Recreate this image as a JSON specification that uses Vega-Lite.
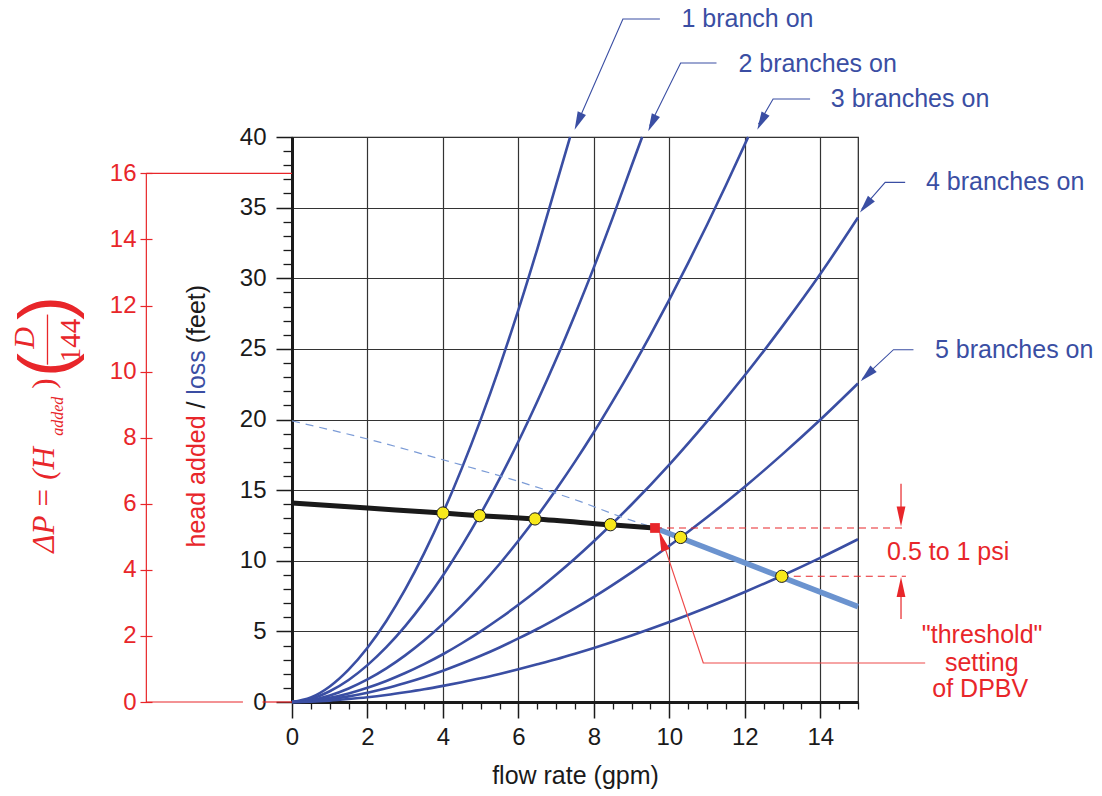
{
  "$schema": "https://vega.github.io/schema/vega-lite/v6.json",
  "width": 566,
  "height": 565,
  "autosize": {"type": "none"},
  "padding": {"left": 292, "top": 137, "right": 244, "bottom": 94},
  "background": "white",
  "config": {"font": "Liberation Sans", "view": {"stroke": "#222222", "strokeWidth": 1.2}},
  "datasets": {
    "curves": [
      {"curve":"c1","q":0,"h":0},{"curve":"c1","q":0.5,"h":0.32},{"curve":"c1","q":1,"h":1.1},{"curve":"c1","q":1.5,"h":2.29},{"curve":"c1","q":2,"h":3.84},{"curve":"c1","q":2.5,"h":5.74},{"curve":"c1","q":3,"h":7.97},{"curve":"c1","q":3.5,"h":10.52},{"curve":"c1","q":4,"h":13.38},{"curve":"c1","q":4.5,"h":16.54},{"curve":"c1","q":5,"h":19.99},{"curve":"c1","q":5.5,"h":23.73},{"curve":"c1","q":6,"h":27.76},{"curve":"c1","q":6.5,"h":32.07},{"curve":"c1","q":7,"h":36.63},{"curve":"c1","q":7.37,"h":40},
      {"curve":"c2","q":0,"h":0},{"curve":"c2","q":0.5,"h":0.22},{"curve":"c2","q":1,"h":0.76},{"curve":"c2","q":1.5,"h":1.56},{"curve":"c2","q":2,"h":2.61},{"curve":"c2","q":2.5,"h":3.88},{"curve":"c2","q":3,"h":5.37},{"curve":"c2","q":3.5,"h":7.07},{"curve":"c2","q":4,"h":8.96},{"curve":"c2","q":4.5,"h":11.05},{"curve":"c2","q":5,"h":13.33},{"curve":"c2","q":5.5,"h":15.8},{"curve":"c2","q":6,"h":18.44},{"curve":"c2","q":6.5,"h":21.27},{"curve":"c2","q":7,"h":24.26},{"curve":"c2","q":7.5,"h":27.44},{"curve":"c2","q":8,"h":30.77},{"curve":"c2","q":8.5,"h":34.29},{"curve":"c2","q":9,"h":37.96},{"curve":"c2","q":9.28,"h":40},
      {"curve":"c3","q":0,"h":0},{"curve":"c3","q":0.5,"h":0.13},{"curve":"c3","q":1,"h":0.46},{"curve":"c3","q":1.5,"h":0.96},{"curve":"c3","q":2,"h":1.6},{"curve":"c3","q":2.5,"h":2.38},{"curve":"c3","q":3,"h":3.3},{"curve":"c3","q":3.5,"h":4.35},{"curve":"c3","q":4,"h":5.53},{"curve":"c3","q":4.5,"h":6.82},{"curve":"c3","q":5,"h":8.24},{"curve":"c3","q":5.5,"h":9.77},{"curve":"c3","q":6,"h":11.42},{"curve":"c3","q":6.5,"h":13.17},{"curve":"c3","q":7,"h":15.05},{"curve":"c3","q":7.5,"h":17.02},{"curve":"c3","q":8,"h":19.1},{"curve":"c3","q":8.5,"h":21.3},{"curve":"c3","q":9,"h":23.59},{"curve":"c3","q":9.5,"h":25.99},{"curve":"c3","q":10,"h":28.49},{"curve":"c3","q":10.5,"h":31.09},{"curve":"c3","q":11,"h":33.79},{"curve":"c3","q":11.5,"h":36.58},{"curve":"c3","q":12,"h":39.48},{"curve":"c3","q":12.09,"h":40},
      {"curve":"c4","q":0,"h":0},{"curve":"c4","q":0.5,"h":0.09},{"curve":"c4","q":1,"h":0.3},{"curve":"c4","q":1.5,"h":0.61},{"curve":"c4","q":2,"h":1.01},{"curve":"c4","q":2.5,"h":1.49},{"curve":"c4","q":3,"h":2.05},{"curve":"c4","q":3.5,"h":2.68},{"curve":"c4","q":4,"h":3.38},{"curve":"c4","q":4.5,"h":4.16},{"curve":"c4","q":5,"h":5.0},{"curve":"c4","q":5.5,"h":5.91},{"curve":"c4","q":6,"h":6.88},{"curve":"c4","q":6.5,"h":7.91},{"curve":"c4","q":7,"h":9.01},{"curve":"c4","q":7.5,"h":10.16},{"curve":"c4","q":8,"h":11.38},{"curve":"c4","q":9,"h":13.98},{"curve":"c4","q":10,"h":16.81},{"curve":"c4","q":11,"h":19.87},{"curve":"c4","q":12,"h":23.13},{"curve":"c4","q":13,"h":26.61},{"curve":"c4","q":14,"h":30.3},{"curve":"c4","q":15,"h":34.3},
      {"curve":"c5","q":0,"h":0},{"curve":"c5","q":0.5,"h":0.06},{"curve":"c5","q":1,"h":0.2},{"curve":"c5","q":1.5,"h":0.4},{"curve":"c5","q":2,"h":0.66},{"curve":"c5","q":2.5,"h":0.97},{"curve":"c5","q":3,"h":1.34},{"curve":"c5","q":3.5,"h":1.75},{"curve":"c5","q":4,"h":2.21},{"curve":"c5","q":4.5,"h":2.72},{"curve":"c5","q":5,"h":3.27},{"curve":"c5","q":5.5,"h":3.86},{"curve":"c5","q":6,"h":4.5},{"curve":"c5","q":6.5,"h":5.17},{"curve":"c5","q":7,"h":5.89},{"curve":"c5","q":7.5,"h":6.64},{"curve":"c5","q":8,"h":7.44},{"curve":"c5","q":9,"h":9.18},{"curve":"c5","q":10,"h":11.06},{"curve":"c5","q":11,"h":13.08},{"curve":"c5","q":12,"h":15.24},{"curve":"c5","q":13,"h":17.55},{"curve":"c5","q":14,"h":19.98},{"curve":"c5","q":15,"h":22.55},
      {"curve":"c6","q":0,"h":0},{"curve":"c6","q":0.5,"h":0.03},{"curve":"c6","q":1,"h":0.1},{"curve":"c6","q":1.5,"h":0.21},{"curve":"c6","q":2,"h":0.34},{"curve":"c6","q":2.5,"h":0.5},{"curve":"c6","q":3,"h":0.69},{"curve":"c6","q":3.5,"h":0.9},{"curve":"c6","q":4,"h":1.14},{"curve":"c6","q":4.5,"h":1.4},{"curve":"c6","q":5,"h":1.68},{"curve":"c6","q":5.5,"h":1.99},{"curve":"c6","q":6,"h":2.32},{"curve":"c6","q":6.5,"h":2.67},{"curve":"c6","q":7,"h":3.03},{"curve":"c6","q":7.5,"h":3.42},{"curve":"c6","q":8,"h":3.83},{"curve":"c6","q":9,"h":4.71},{"curve":"c6","q":10,"h":5.66},{"curve":"c6","q":11,"h":6.69},{"curve":"c6","q":12,"h":7.79},{"curve":"c6","q":13,"h":8.96},{"curve":"c6","q":14,"h":10.2},{"curve":"c6","q":15,"h":11.52}
    ],
    "pump": [{"q":0,"h":14.09},{"q":2,"h":13.73},{"q":4,"h":13.38},{"q":4.97,"h":13.19},{"q":6.44,"h":12.96},{"q":8.44,"h":12.55},{"q":9.62,"h":12.32}],
    "bypass": [{"q":9.62,"h":12.32},{"q":15,"h":6.75}],
    "unregulated": [{"q":0,"h":19.9},{"q":2,"h":18.62},{"q":4,"h":17.15},{"q":6,"h":15.62},{"q":7.63,"h":14.2},{"q":8.69,"h":13.14},{"q":9.62,"h":12.32}],
    "operating": [{"q":4,"h":13.38},{"q":4.97,"h":13.19},{"q":6.44,"h":12.96},{"q":8.44,"h":12.55},{"q":10.3,"h":11.65},{"q":12.98,"h":8.9}],
    "threshold": [{"q":9.62,"h":12.32}],
    "redDashed": [{"q":9.62,"h":12.32,"q2":16.27,"h2":12.32},{"q":12.98,"h":8.9,"q2":16.27,"h2":8.9}],
    "redShafts": [{"q":16.14,"h":15.45,"q2":16.14,"h2":12.8},{"q":16.14,"h":5.88,"q2":16.14,"h2":8.5}],
    "redLeader": [{"o":1,"q":16.78,"h":2.76},{"o":2,"q":10.9,"h":2.76},{"o":3,"q":9.76,"h":11.9}],
    "blueLeaders": [
      {"label":"1","o":1,"q":9.75,"h":48.35},{"label":"1","o":2,"q":8.77,"h":48.35},{"label":"1","o":3,"q":7.55,"h":40.9},
      {"label":"2","o":1,"q":11.25,"h":45.24},{"label":"2","o":2,"q":10.3,"h":45.24},{"label":"2","o":3,"q":9.48,"h":40.8},
      {"label":"3","o":1,"q":13.73,"h":42.69},{"label":"3","o":2,"q":12.75,"h":42.69},{"label":"3","o":3,"q":12.36,"h":40.9},
      {"label":"4","o":1,"q":16.25,"h":36.79},{"label":"4","o":2,"q":15.72,"h":36.79},{"label":"4","o":3,"q":15.1,"h":34.9},
      {"label":"5","o":1,"q":16.47,"h":24.94},{"label":"5","o":2,"q":15.94,"h":24.94},{"label":"5","o":3,"q":15.12,"h":22.9}
    ],
    "blueHeads": [{"q":7.49,"h":40.52,"angle":203.6},{"q":9.44,"h":40.4,"angle":205.3},{"q":12.33,"h":40.52,"angle":207.5},{"q":15.05,"h":34.66,"angle":219.8},{"q":15.07,"h":22.7,"angle":225.8}],
    "redHeads": [{"q":16.14,"h":12.43,"angle":180},{"q":16.14,"h":8.85,"angle":0},{"q":9.73,"h":12.08,"angle":341.5}],
    "blueLabels": [{"t":"1 branch on","q":10.32,"h":48.35},{"t":"2 branches on","q":11.83,"h":45.19},{"t":"3 branches on","q":14.28,"h":42.69},{"t":"4 branches on","q":16.8,"h":36.79},{"t":"5 branches on","q":17.04,"h":24.94}],
    "redLabels": [{"t":"0.5 to 1 psi","q":17.39,"h":10.6},{"t":"\"threshold\"","q":18.29,"h":4.77},{"t":"setting","q":18.28,"h":2.76},{"t":"of DPBV","q":18.24,"h":0.92}],
    "titleParts": [{"t":"head added","q":-2.53,"h":10.94,"c":"added"},{"t":"/","q":-2.53,"h":20.78,"c":"slash"},{"t":"loss","q":-2.53,"h":21.76,"c":"loss"},{"t":"(feet)","q":-2.53,"h":25.4,"c":"feet"}],
    "psiFrame": [{"q":-3.86,"p":0,"q2":-3.86,"p2":16},{"q":-3.86,"p":16,"q2":0,"p2":16},{"q":-3.86,"p":0,"q2":-1.3,"p2":0},{"q":-0.78,"p":0,"q2":0,"p2":0}]
  },
  "layer": [
    {
      "encoding": {
        "x": {"field": "q", "type": "quantitative", "scale": {"domain": [0, 15], "nice": false, "zero": false},
          "axis": {"orient": "bottom", "values": [0,2,4,6,8,10,12,14], "tickSize": 16, "tickWidth": 1.5, "tickColor": "#1a1a1a", "domainColor": "#1a1a1a", "domainWidth": 3, "grid": true, "gridColor": "#333333", "gridWidth": 1.2, "labelFontSize": 24, "labelColor": "#1a1a1a", "labelPadding": 7, "labelFlush": false, "labelOverlap": false, "title": "flow rate (gpm)", "titleFontSize": 25, "titleFontWeight": "normal", "titleColor": "#1a1a1a", "titlePadding": 14}},
        "y": {"field": "h", "type": "quantitative", "scale": {"domain": [0, 40], "nice": false, "zero": false},
          "axis": {"orient": "left", "values": [0,5,10,15,20,25,30,35,40], "tickSize": 16, "tickWidth": 1.5, "tickColor": "#1a1a1a", "domainColor": "#1a1a1a", "domainWidth": 3, "grid": true, "gridColor": "#333333", "gridWidth": 1.2, "labelFontSize": 24, "labelColor": "#1a1a1a", "labelPadding": 10, "labelFlush": false, "labelOverlap": false, "title": null}}
      },
      "layer": [
        {"data": {"name": "curves"}, "mark": {"type": "line", "color": "#3a4ea3", "strokeWidth": 2.6, "interpolate": "monotone"}, "encoding": {"detail": {"field": "curve"}}},
        {"data": {"name": "unregulated"}, "mark": {"type": "line", "color": "#7b9bd6", "strokeWidth": 1.2, "strokeDash": [8, 6], "interpolate": "monotone"}},
        {"data": {"name": "bypass"}, "mark": {"type": "line", "color": "#6b93cf", "strokeWidth": 5.5}},
        {"data": {"name": "pump"}, "mark": {"type": "line", "color": "#1a1a1a", "strokeWidth": 5, "interpolate": "monotone"}},
        {"data": {"name": "redDashed"}, "mark": {"type": "rule", "color": "#e8262a", "strokeWidth": 1.1, "strokeDash": [7, 5]}, "encoding": {"x2": {"field": "q2"}, "y2": {"field": "h2"}}},
        {"data": {"name": "redShafts"}, "mark": {"type": "rule", "color": "#e8262a", "strokeWidth": 1.2}, "encoding": {"x2": {"field": "q2"}, "y2": {"field": "h2"}}},
        {"data": {"name": "redLeader"}, "mark": {"type": "line", "color": "#ee4a4a", "strokeWidth": 1.2}, "encoding": {"order": {"field": "o", "type": "quantitative"}}},
        {"data": {"name": "blueLeaders"}, "mark": {"type": "line", "color": "#3a4ea3", "strokeWidth": 1.1}, "encoding": {"detail": {"field": "label"}, "order": {"field": "o", "type": "quantitative"}}},
        {"data": {"name": "operating"}, "mark": {"type": "point", "shape": "circle", "filled": true, "size": 150, "fill": "#f7e81b", "stroke": "#1a1a1a", "strokeWidth": 1, "opacity": 1}},
        {"data": {"name": "threshold"}, "mark": {"type": "point", "shape": "square", "filled": true, "size": 95, "color": "#e8262a", "opacity": 1}},
        {"data": {"name": "blueHeads"}, "mark": {"type": "point", "shape": "M0,0L0.25,1L-0.25,1Z", "filled": true, "size": 1296, "color": "#3a4ea3", "opacity": 1}, "encoding": {"angle": {"field": "angle", "type": "quantitative", "scale": null}}},
        {"data": {"name": "redHeads"}, "mark": {"type": "point", "shape": "M0,0L0.22,1L-0.22,1Z", "filled": true, "size": 1600, "color": "#e8262a", "opacity": 1}, "encoding": {"angle": {"field": "angle", "type": "quantitative", "scale": null}}},
        {"data": {"name": "blueLabels"}, "mark": {"type": "text", "font": "Liberation Sans", "fontSize": 25, "color": "#3a4ea3", "align": "left", "baseline": "middle"}, "encoding": {"text": {"field": "t"}}},
        {"data": {"name": "redLabels"}, "mark": {"type": "text", "font": "Liberation Sans", "fontSize": 25, "color": "#e8262a", "align": "center", "baseline": "middle"}, "encoding": {"text": {"field": "t"}}},
        {"data": {"name": "titleParts"}, "mark": {"type": "text", "font": "Liberation Sans", "fontSize": 25, "angle": 270, "align": "left", "baseline": "middle"}, "encoding": {"text": {"field": "t"}, "color": {"field": "c", "type": "nominal", "scale": {"domain": ["added", "slash", "loss", "feet"], "range": ["#e8262a", "#1a1a1a", "#3a4ea3", "#1a1a1a"]}, "legend": null}}},
        {"data": {"values": [{"t": "ΔP = (H", "q": -6.3, "h": 10.57}]}, "mark": {"type": "text", "font": "Liberation Serif", "fontStyle": "italic", "fontSize": 31, "color": "#e8262a", "angle": 270, "align": "left", "baseline": "alphabetic"}, "encoding": {"text": {"field": "t"}}},
        {"data": {"values": [{"t": "added", "q": -6.07, "h": 18.85}]}, "mark": {"type": "text", "font": "Liberation Serif", "fontStyle": "italic", "fontSize": 16, "color": "#e8262a", "angle": 270, "align": "left", "baseline": "alphabetic"}, "encoding": {"text": {"field": "t"}}},
        {"data": {"values": [{"t": ")", "q": -6.3, "h": 22.18}]}, "mark": {"type": "text", "font": "Liberation Serif", "fontSize": 31, "color": "#e8262a", "angle": 270, "align": "left", "baseline": "alphabetic"}, "encoding": {"text": {"field": "t"}}},
        {"data": {"values": [{"t": "(", "q": -6.5, "h": 23.85}, {"t": ")", "q": -6.5, "h": 27.9}]}, "mark": {"type": "text", "font": "Liberation Sans", "fontSize": 72, "color": "#e8262a", "angle": 270, "align": "center", "baseline": "middle"}, "encoding": {"text": {"field": "t"}}},
        {"data": {"values": [{"t": "D", "q": -7.07, "h": 25.77}]}, "mark": {"type": "text", "font": "Liberation Serif", "fontStyle": "italic", "fontSize": 30, "color": "#e8262a", "angle": 270, "align": "center", "baseline": "middle"}, "encoding": {"text": {"field": "t"}}},
        {"data": {"values": [{"t": "144", "q": -5.85, "h": 25.6}]}, "mark": {"type": "text", "font": "Liberation Serif", "fontSize": 29, "color": "#e8262a", "angle": 270, "align": "center", "baseline": "middle"}, "encoding": {"text": {"field": "t"}}},
        {"data": {"values": [{"q": -6.48, "h": 23.88, "q2": -6.48, "h2": 27.43}]}, "mark": {"type": "rule", "color": "#e8262a", "strokeWidth": 1.3}, "encoding": {"x2": {"field": "q2"}, "y2": {"field": "h2"}}}
      ]
    },
    {
      "data": {"values": [{"q": 0, "h": 0}]},
      "mark": {"type": "point", "opacity": 0},
      "encoding": {
        "x": {"field": "q", "type": "quantitative", "scale": {"domain": [0, 15], "nice": false, "zero": false},
          "axis": {"orient": "bottom", "values": [0.5,1,1.5,2.5,3,3.5,4.5,5,5.5,6.5,7,7.5,8.5,9,9.5,10.5,11,11.5,12.5,13,13.5,14.5,15], "tickSize": 7, "tickWidth": 1.3, "tickColor": "#1a1a1a", "labels": false, "domain": false, "grid": false, "title": null}},
        "y": {"field": "h", "type": "quantitative", "scale": {"domain": [0, 40], "nice": false, "zero": false},
          "axis": {"orient": "left", "values": [1,2,3,4,6,7,8,9,11,12,13,14,16,17,18,19,21,22,23,24,26,27,28,29,31,32,33,34,36,37,38,39], "tickSize": 9, "tickWidth": 1.3, "tickColor": "#1a1a1a", "labels": false, "domain": false, "grid": false, "title": null}}
      }
    },
    {
      "data": {"name": "psiFrame"},
      "mark": {"type": "rule", "color": "#e8262a", "strokeWidth": 1.2},
      "encoding": {
        "x": {"field": "q", "type": "quantitative", "scale": {"domain": [0, 15], "nice": false, "zero": false}, "axis": null},
        "x2": {"field": "q2"},
        "y": {"field": "p", "type": "quantitative", "scale": {"domain": [0, 17.1], "nice": false, "zero": false},
          "axis": {"orient": "left", "offset": 140, "values": [0,2,4,6,8,10,12,14,16], "domain": false, "tickSize": 12, "tickWidth": 1.2, "tickColor": "#e8262a", "labelColor": "#e8262a", "labelFontSize": 24, "labelPadding": 4, "labelFlush": false, "labelOverlap": false, "grid": false, "title": null}},
        "y2": {"field": "p2"}
      }
    }
  ],
  "resolve": {"scale": {"x": "independent", "y": "independent"}}
}
